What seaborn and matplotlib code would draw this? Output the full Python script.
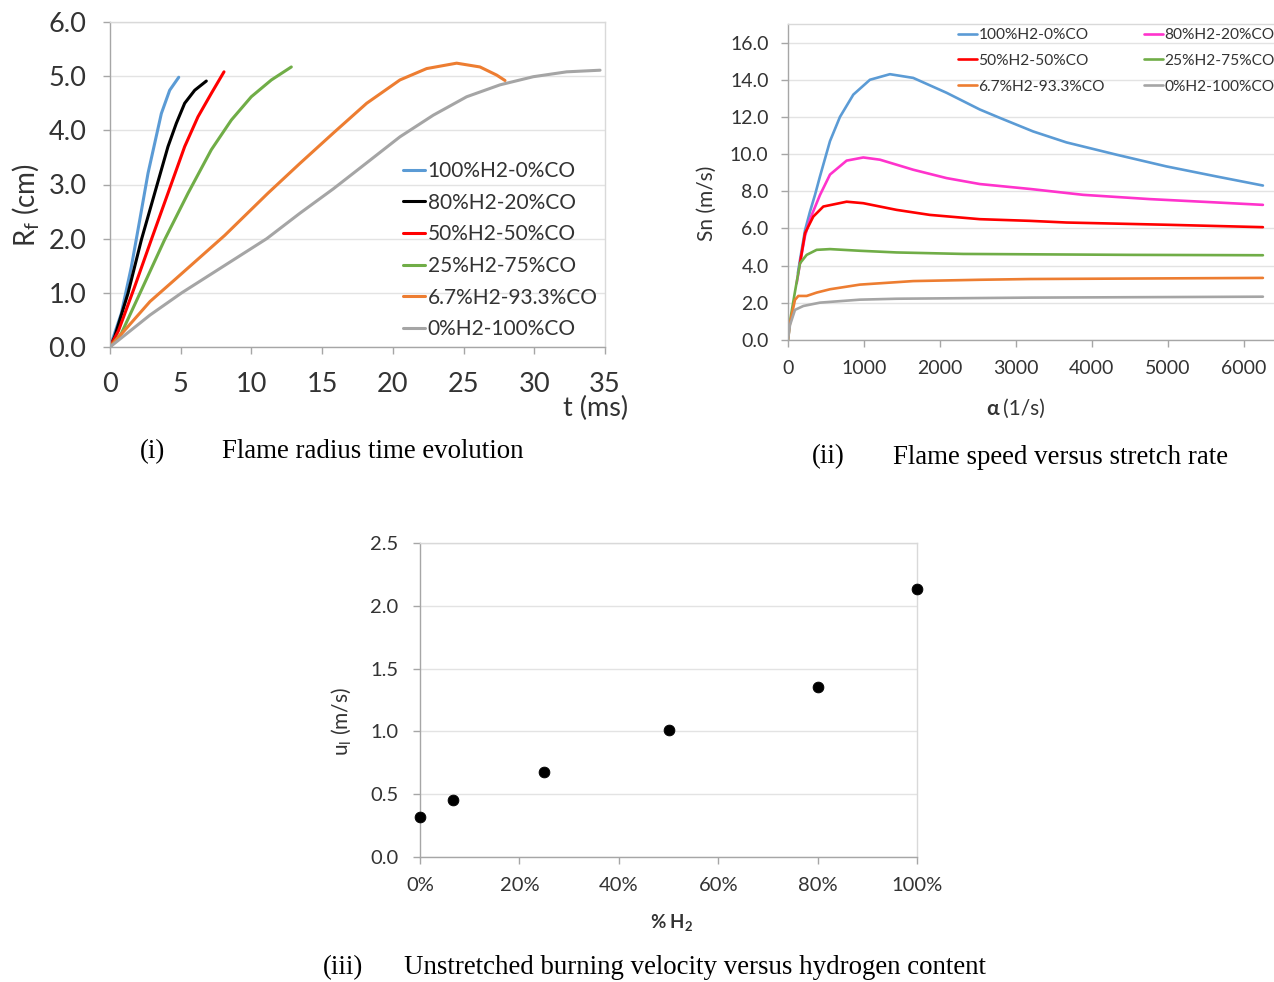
import numpy as np
import pandas as pd
import matplotlib
matplotlib.use('Agg')
import matplotlib.pyplot as plt
import seaborn as sns
from matplotlib.ticker import FormatStrFormatter, PercentFormatter

# ── Data: (i) flame radius vs time ────────────────────────────────────────────
labels = ['100%H2-0%CO', '80%H2-20%CO', '50%H2-50%CO',
          '25%H2-75%CO', '6.7%H2-93.3%CO', '0%H2-100%CO']

t_h100 = [0, 0.8, 1.51, 2.10, 2.69, 3.16, 3.63, 4.22, 4.86]
r_h100 = [0, 0.62, 1.48, 2.34, 3.21, 3.76, 4.31, 4.74, 4.98]
t_h80 = [0, 0.33, 1.27, 2.22, 3.16, 4.10, 4.69, 5.28, 5.99, 6.81]
r_h80 = [0, 0.19, 0.99, 1.98, 2.84, 3.70, 4.13, 4.50, 4.74, 4.91]
t_h50 = [0, 0.6, 1.74, 2.92, 4.10, 5.28, 6.22, 7.16, 8.06]
r_h50 = [0, 0.3, 1.11, 1.98, 2.84, 3.70, 4.25, 4.68, 5.08]
t_h25 = [0, 0.80, 2.22, 3.86, 5.52, 7.16, 8.58, 9.99, 11.41, 12.82]
r_h25 = [0, 0.25, 1.05, 1.98, 2.84, 3.64, 4.19, 4.62, 4.93, 5.17]
t_h67 = [0, 2.83, 4.57, 8.11, 11.17, 13.43, 15.79, 18.15, 20.50, 22.39,
         24.51, 26.16, 27.34, 27.93]
r_h67 = [0, 0.84, 1.24, 2.06, 2.84, 3.39, 3.95, 4.50, 4.93, 5.14,
         5.24, 5.17, 5.02, 4.92]
t_h0 = [0, 2.83, 5.07, 11.08, 13.43, 15.79, 18.15, 20.50, 22.86, 25.22,
        27.58, 29.93, 32.29, 34.65]
r_h0 = [0, 0.59, 1.0, 2.0, 2.47, 2.92, 3.40, 3.88, 4.28, 4.62,
        4.84, 4.99, 5.08, 5.11]

# ── Data: (ii) flame speed vs stretch rate ────────────────────────────────────
a_h100 = [130, 158, 224, 289, 355, 421, 553, 684, 860, 1079, 1342, 1649, 2088,
          2526, 2789, 3228, 3667, 4325, 4982, 5640, 6254]
s_h100 = [3.6, 4.31, 5.9, 6.9, 7.8, 8.8, 10.7, 12.0, 13.2, 14.0, 14.3, 14.1,
          13.3, 12.4, 11.95, 11.22, 10.63, 9.97, 9.34, 8.8, 8.31]
a_h80 = [114, 158, 224, 290, 421, 553, 772, 991, 1211, 1649, 2088, 2526, 3200,
         3886, 4763, 5640, 6254]
s_h80 = [3.05, 4.13, 5.6, 6.5, 7.8, 8.9, 9.65, 9.82, 9.70, 9.16, 8.71, 8.39,
         8.12, 7.81, 7.58, 7.40, 7.27]
a_h50 = [158, 224, 333, 465, 772, 991, 1430, 1868, 2526, 3184, 3667, 4982,
         6254]
s_h50 = [4.13, 5.75, 6.64, 7.18, 7.44, 7.36, 7.0, 6.73, 6.50, 6.41, 6.32,
         6.20, 6.07]
a_h25 = [0, 26, 92, 158, 246, 377, 553, 947, 1430, 2307, 3184, 4500, 6254]
s_h25 = [0, 1.0, 2.6, 4.13, 4.58, 4.85, 4.89, 4.80, 4.71, 4.63, 4.61, 4.58,
         4.56]
a_h67 = [0, 26, 92, 136, 246, 377, 553, 947, 1649, 2526, 3184, 6254]
s_h67 = [0, 0.9, 2.16, 2.37, 2.37, 2.55, 2.73, 2.98, 3.17, 3.24, 3.28, 3.34]
a_h0 = [0, 26, 92, 202, 421, 947, 1430, 3184, 6254]
s_h0 = [0, 0.8, 1.62, 1.83, 2.01, 2.17, 2.22, 2.28, 2.33]

# ── Data: (iii) unstretched burning velocity ─────────────────────────────────
h2_frac = [0.0, 0.067, 0.25, 0.5, 0.8, 1.0]
u_l = [0.32, 0.45, 0.68, 1.01, 1.35, 2.13]

colors_i = ['#5b9bd5', '#000000', '#ff0000', '#70ad47', '#ed7d31', '#a5a5a5']
colors_ii = ['#5b9bd5', '#ff33cc', '#ff0000', '#70ad47', '#ed7d31', '#a5a5a5']

# ── Style ────────────────────────────────────────────────────────────────────
sns.set_theme(style='white')
plt.rcParams['font.family'] = ['Lato', 'DejaVu Sans']
plt.rcParams['mathtext.default'] = 'regular'
plt.rcParams['text.color'] = '#333333'
plt.rcParams['axes.labelcolor'] = '#333333'
plt.rcParams['xtick.color'] = '#333333'
plt.rcParams['ytick.color'] = '#333333'

W, H = 1274, 982
fig = plt.figure(figsize=(W / 100, H / 100), dpi=100)


def px_axes(x0, y0, x1, y1):
    return fig.add_axes([x0 / W, 1 - y1 / H, (x1 - x0) / W, (y1 - y0) / H])


def style_box(ax, fs, xpad, ypad):
    for s in ['top', 'right']:
        ax.spines[s].set_color('#d9d9d9')
    for s in ['left', 'bottom']:
        ax.spines[s].set_color('#a6a6a6')
    for s in ax.spines.values():
        s.set_linewidth(1.0)
    ax.yaxis.grid(True, color='#e3e3e3', lw=1.0)
    ax.xaxis.grid(False)
    ax.tick_params(axis='both', which='major', direction='out', length=5,
                   width=1, color='#a6a6a6', labelsize=fs)
    ax.tick_params(axis='x', bottom=True, pad=xpad)
    ax.tick_params(axis='y', left=True, pad=ypad)


def long_df(xs, ys, names, xname, yname):
    parts = []
    for x, y, n in zip(xs, ys, names):
        parts.append(pd.DataFrame({xname: x, yname: y, 'mix': n}))
    return pd.concat(parts, ignore_index=True)


# ── (i) Flame radius ─────────────────────────────────────────────────────────
ax1 = px_axes(110, 22, 605, 347)
df1 = long_df([t_h100, t_h80, t_h50, t_h25, t_h67, t_h0],
              [r_h100, r_h80, r_h50, r_h25, r_h67, r_h0], labels, 't', 'R')
sns.lineplot(data=df1, x='t', y='R', hue='mix', palette=colors_i, sort=False,
             lw=2.2, ax=ax1, estimator=None)
ax1.set_xlim(0, 35)
ax1.set_ylim(0, 6)
ax1.set_xticks(range(0, 36, 5))
ax1.set_yticks(np.arange(0, 6.1, 1.0))
ax1.yaxis.set_major_formatter(FormatStrFormatter('%.1f'))
style_box(ax1, 19.5, 13, 12)
ax1.set_xlabel('')
ax1.set_ylabel(r'R$_{f}$ (cm)', fontsize=20)
ax1.yaxis.set_label_coords(-0.139, 0.437)
ax1.text(0.98, -0.19, 't (ms)', transform=ax1.transAxes, fontsize=19.5,
         ha='center', va='center')
h, l = ax1.get_legend_handles_labels()
ax1.legend(h, l, loc='upper left', bbox_to_anchor=(0.591, 0.572), frameon=False,
           fontsize=15, handlelength=1.1, handletextpad=0.1, labelspacing=0.56,
           borderaxespad=0, borderpad=0)

# ── (ii) Flame speed ─────────────────────────────────────────────────────────
ax2 = px_axes(788, 24, 1274, 340)
df2 = long_df([a_h100, a_h80, a_h50, a_h25, a_h67, a_h0],
              [s_h100, s_h80, s_h50, s_h25, s_h67, s_h0], labels, 'a', 'S')
sns.lineplot(data=df2, x='a', y='S', hue='mix', palette=colors_ii, sort=False,
             lw=1.9, ax=ax2, estimator=None)
ax2.set_xlim(0, 6400)
ax2.set_ylim(0, 17)
ax2.set_xticks(range(0, 6001, 1000))
ax2.set_yticks(np.arange(0, 16.1, 2.0))
ax2.yaxis.set_major_formatter(FormatStrFormatter('%.1f'))
style_box(ax2, 14, 9.5, 9)
ax2.spines['right'].set_visible(False)
ax2.set_xlabel('')
ax2.set_ylabel('Sn (m/s)', fontsize=15)
ax2.yaxis.set_label_coords(-0.146, 0.434)
fig.text(999 / W, 1 - 409 / H, 'α', fontsize=15, fontweight='bold',
         ha='right', va='center')
fig.text(1003 / W, 1 - 409 / H, '(1/s)', fontsize=15, ha='left', va='center')
h, l = ax2.get_legend_handles_labels()
order = [0, 2, 4, 1, 3, 5]
ax2.legend([h[i] for i in order], [l[i] for i in order], loc='upper left',
           bbox_to_anchor=(0.35, 0.987), ncol=2, frameon=False, fontsize=11.2,
           handlelength=1.2, handletextpad=0.1, labelspacing=0.76,
           columnspacing=2.55, borderaxespad=0, borderpad=0)

# ── (iii) Unstretched burning velocity ───────────────────────────────────────
ax3 = px_axes(420, 543, 917, 857)
sns.scatterplot(x=h2_frac, y=u_l, color='black', s=60, edgecolor='black',
                ax=ax3, clip_on=False, zorder=5)
ax3.set_xlim(0, 1)
ax3.set_ylim(0, 2.5)
ax3.set_xticks(np.arange(0, 1.01, 0.2))
ax3.set_yticks(np.arange(0, 2.51, 0.5))
ax3.xaxis.set_major_formatter(PercentFormatter(1.0, decimals=0))
ax3.yaxis.set_major_formatter(FormatStrFormatter('%.1f'))
style_box(ax3, 14.5, 9.5, 10.5)
ax3.set_ylabel(r'u$_{l}$ (m/s)', fontsize=15)
ax3.yaxis.set_label_coords(-0.135, 0.43)
ax3.set_xlabel(r'% H$_{2}$', fontsize=13.5, fontweight='bold')
ax3.xaxis.set_label_coords(0.507, -0.175)

# ── Captions ────────────────────────────────────────────────────────────────
cap = dict(family=['Liberation Serif', 'DejaVu Serif'], fontsize=19.4,
           color='black', va='center', ha='left')
fig.text(140 / W, 1 - 452 / H, '(i)', **cap)
fig.text(222 / W, 1 - 452 / H, 'Flame radius time evolution', **cap)
fig.text(812 / W, 1 - 457 / H, '(ii)', **cap)
fig.text(893 / W, 1 - 457 / H, 'Flame speed versus stretch rate', **cap)
fig.text(323 / W, 1 - 968 / H, '(iii)', **cap)
fig.text(404 / W, 1 - 968 / H,
         'Unstretched burning velocity versus hydrogen content', **cap)

fig.savefig('out.png', dpi=100)
